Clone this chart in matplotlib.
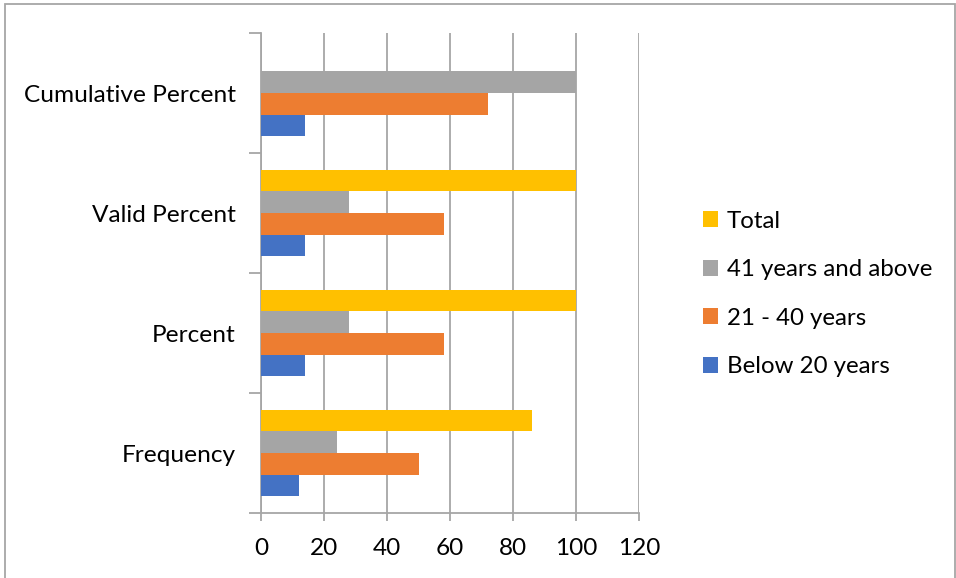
import matplotlib.pyplot as plt
import numpy as np
from matplotlib.patches import Rectangle

plt.rcParams['font.family'] = ['Lato', 'DejaVu Sans']

categories = ['Frequency', 'Percent', 'Valid Percent', 'Cumulative Percent']
series = ['Below 20 years', '21 - 40 years', '41 years and above', 'Total']
below_20 = [12, 14, 14, 14]
age_21_40 = [50, 58, 58, 72]
above_41 = [24, 28, 28, 100]
total = [86, 100, 100, np.nan]
colors = ['#4472C4', '#ED7D31', '#A5A5A5', '#FFC000']

W, H = 956, 578
fig = plt.figure(figsize=(W / 100, H / 100), dpi=100)
ax = fig.add_axes([261 / W, 65 / H, (639 - 261) / W, (513 - 33) / H])

bar_h = 0.18
y = np.arange(len(categories))
handles = []
for i, (vals, c) in enumerate(zip([below_20, age_21_40, above_41, total], colors)):
    vals = np.array(vals, dtype=float)
    ok = ~np.isnan(vals)
    b = ax.barh(y[ok] + (i - 1.5) * bar_h, vals[ok], height=bar_h, color=c,
                label=series[i], zorder=3)
    handles.append(b)

fs = 17.6
grid_c = '#A6A6A6'
ax.set_xlim(0, 120)
ax.set_ylim(-0.5, len(categories) - 0.5)
ax.set_xticks(np.arange(0, 121, 20))
ax.set_yticks(y)
ax.set_yticklabels(categories)
ax.set_yticks(np.arange(-0.5, len(categories)), minor=True)
ax.tick_params(axis='y', which='major', length=0, pad=18, labelsize=fs)
ax.tick_params(axis='y', which='minor', length=9, color=grid_c, width=1.3)
ax.tick_params(axis='x', length=6, color=grid_c, width=1.3, labelsize=fs, pad=12)
ax.grid(axis='x', color=grid_c, linewidth=1.3, zorder=0)
ax.set_axisbelow(True)
for s in ['top', 'right']:
    ax.spines[s].set_visible(False)
for s in ['left', 'bottom']:
    ax.spines[s].set_color(grid_c)
    ax.spines[s].set_linewidth(1.3)

fig.legend(handles[::-1], series[::-1], loc='center left',
           bbox_to_anchor=(681 / W, 1 - 294 / H), frameon=False, fontsize=17.3,
           handlelength=0.65, handleheight=0.65, handletextpad=0.35,
           labelspacing=1.15)

fig.patches.append(Rectangle((5 / W, -0.01), 950 / W, 1.01 - 4 / H,
                             transform=fig.transFigure, fill=False,
                             edgecolor='#A6A6A6', linewidth=1.3))

fig.savefig('out.png', dpi=100)
